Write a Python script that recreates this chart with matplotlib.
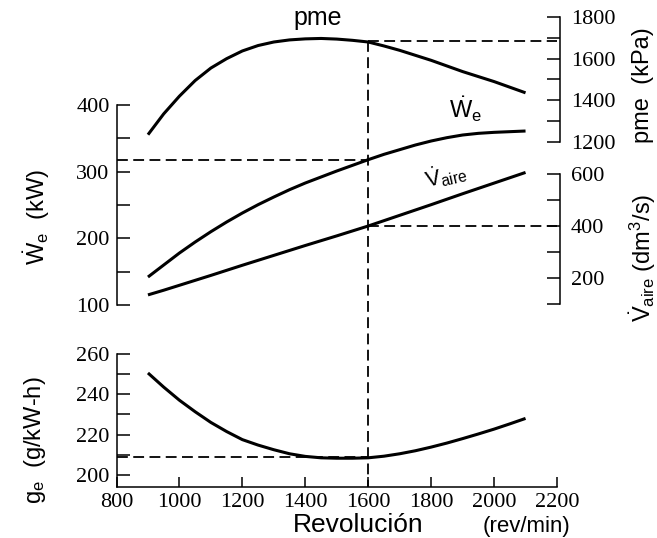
import matplotlib
matplotlib.use('Agg')
from matplotlib import pyplot as plt
from matplotlib.ticker import FixedLocator


# ---------------- data ----------------
rpm = [900, 950, 1000, 1050, 1100, 1150, 1200, 1250, 1300, 1350, 1400, 1450, 1500,
       1550, 1600, 1650, 1700, 1750, 1800, 1850, 1900, 1950, 2000, 2050, 2100]
pme = [1235, 1335, 1420, 1495, 1555, 1600, 1637, 1663, 1680, 1690, 1695, 1697, 1694,
       1688, 1680, 1661, 1640, 1616, 1592, 1565, 1538, 1514, 1490, 1463, 1436]
we = [142, 160, 178, 194.5, 210, 224.5, 238, 250.5, 262, 273, 283, 292, 301,
      309.5, 318, 326, 333, 340, 346, 351, 355, 357.5, 359, 360, 361]
vaire = [135, 153, 172, 191, 210, 229.5, 249, 268, 287, 306, 325, 343.5, 362,
         381, 400, 420.5, 441, 461.5, 482, 503, 524, 544.5, 565, 585.5, 606]
ge = [250.5, 243.5, 237, 231.3, 226, 221.5, 217.5, 214.8, 212.5, 210.5, 209.2, 208.5, 208.3,
      208.3, 208.5, 209.3, 210.5, 212, 213.8, 215.8, 218, 220.3, 222.7, 225.3, 228]

x_ticks = [800, 1000, 1200, 1400, 1600, 1800, 2000, 2200]

ref_rpm = 1600
ref_pme = 1686
ref_we = 318
ref_vaire = 400
ref_ge = 209

plt.rcParams['font.family'] = 'Liberation Serif'
plt.rcParams['mathtext.fontset'] = 'custom'
plt.rcParams['mathtext.rm'] = 'Liberation Sans'
plt.rcParams['mathtext.it'] = 'Liberation Sans:italic'
plt.rcParams['mathtext.bf'] = 'Liberation Sans:bold'

SANS = 'Liberation Sans'
CURVE_LW = 2.2
TICK_FS = 16
DASH = dict(color='black', lw=1.3, linestyle=(0, (6, 3)), clip_on=False)

fig = plt.figure(figsize=(6.57, 5.38), dpi=100)
rect = [116.5 / 657, 1 - 486.5 / 538, 440.5 / 657, 486.5 / 538]


def make_axes(name):
    ax = fig.add_axes(rect, label=name)
    ax.patch.set_visible(False)
    ax.set_xlim(800, 2200)
    for s in ax.spines.values():
        s.set_visible(False)
        s.set_linewidth(1.1)
    ax.tick_params(axis='both', which='both', direction='in', width=1.1)
    return ax


# ge axis is the host: carries the rpm axis too
ax_ge = make_axes('ge')
ax_ge.set_ylim(194.3, 435.1)
ax_ge.spines['left'].set_visible(True)
ax_ge.spines['left'].set_bounds(194.3, 260)
ax_ge.spines['bottom'].set_visible(True)
ax_ge.spines['bottom'].set_bounds(800, 2200)
ax_ge.set_xticks(x_ticks)
ax_ge.set_yticks([200, 220, 240, 260])
ax_ge.yaxis.set_minor_locator(FixedLocator([210, 230, 250]))
ax_ge.tick_params(axis='x', length=7, pad=5, labelsize=TICK_FS)
ax_ge.tick_params(axis='y', which='both', length=9.5, pad=5, labelsize=TICK_FS)

# We axis (left, upper part)
ax_we = make_axes('we')
ax_we.set_ylim(-172.2, 557.5)
ax_we.spines['left'].set_visible(True)
ax_we.spines['left'].set_bounds(100, 400)
ax_we.set_xticks([])
ax_we.set_yticks([100, 200, 300, 400])
ax_we.yaxis.set_minor_locator(FixedLocator([150, 250, 350]))
ax_we.tick_params(axis='y', which='both', length=9.5, pad=5, labelsize=TICK_FS)

# pme axis (right, top)
ax_pme = make_axes('pme')
ax_pme.set_ylim(-453.9, 1881.6)
ax_pme.yaxis.tick_right()
ax_pme.spines['right'].set_visible(True)
ax_pme.spines['right'].set_position(('outward', 2))
ax_pme.spines['right'].set_bounds(1200, 1800)
ax_pme.set_xticks([])
ax_pme.set_yticks([1200, 1400, 1600, 1800])
ax_pme.yaxis.set_minor_locator(FixedLocator([1300, 1500, 1700]))
ax_pme.tick_params(axis='y', which='both', length=9.5, pad=8, labelsize=TICK_FS)

# Vaire axis (right, middle)
ax_va = make_axes('vaire')
ax_va.set_ylim(-601.9, 1269.2)
ax_va.yaxis.tick_right()
ax_va.spines['right'].set_visible(True)
ax_va.spines['right'].set_position(('outward', 2))
ax_va.spines['right'].set_bounds(100, 600)
ax_va.set_xticks([])
ax_va.set_yticks([200, 400, 600])
ax_va.yaxis.set_minor_locator(FixedLocator([100, 300, 500]))
ax_va.tick_params(axis='y', which='both', length=9.5, pad=8, labelsize=TICK_FS)

# curves
ax_pme.plot(rpm, pme, color='black', lw=CURVE_LW, solid_capstyle='butt')
ax_we.plot(rpm, we, color='black', lw=CURVE_LW, solid_capstyle='butt')
ax_va.plot(rpm, vaire, color='black', lw=CURVE_LW, solid_capstyle='butt')
ax_ge.plot(rpm, ge, color='black', lw=CURVE_LW, solid_capstyle='butt')

# reference lines at 1600 rpm
ax_pme.plot([ref_rpm, 2200], [ref_pme, ref_pme], **DASH)
ax_pme.plot([ref_rpm, ref_rpm], [ref_pme, ax_pme.get_ylim()[0]], **DASH)
ax_we.plot([800, ref_rpm], [ref_we, ref_we], **DASH)
ax_va.plot([ref_rpm, 2200], [ref_vaire, ref_vaire], **DASH)
ax_ge.plot([800, ref_rpm], [ref_ge, ref_ge], **DASH)

# curve labels
ax_pme.text(1440, 1793, 'pme', family=SANS, fontsize=18, ha='center', va='center')
ax_we.text(1858, 380, r'$\dot{\mathrm{W}}_{\mathrm{e}}$', fontsize=17,
           ha='left', va='baseline')
ax_va.text(1785, 548, r'$\dot{\mathrm{V}}_{\mathrm{aire}}$', fontsize=16,
           ha='left', va='baseline', rotation=13, rotation_mode='anchor')

# axis titles
fig.text(37 / 657, 1 - 217 / 538, r'$\dot{\mathrm{W}}_{\mathrm{e}}$  (kW)', family=SANS,
         fontsize=17, rotation=90, ha='center', va='center')
fig.text(35 / 657, 1 - 440 / 538, r'$\mathrm{g}_{\mathrm{e}}$  (g/kW-h)', family=SANS,
         fontsize=17, rotation=90, ha='center', va='center')
fig.text(643 / 657, 1 - 85 / 538, 'pme  (kPa)', family=SANS,
         fontsize=17, rotation=90, ha='center', va='center')
fig.text(643 / 657, 1 - 258 / 538, r'$\dot{\mathrm{V}}_{\mathrm{aire}}$ (dm$^3$/s)', family=SANS,
         fontsize=17, rotation=90, ha='center', va='center')
fig.text(358 / 657, 1 - 532 / 538, 'Revolución', family=SANS,
         fontsize=19, ha='center', va='baseline')
fig.text(526 / 657, 1 - 532 / 538, '(rev/min)', family=SANS,
         fontsize=16, ha='center', va='baseline')

fig.savefig('out.png', dpi=100)
